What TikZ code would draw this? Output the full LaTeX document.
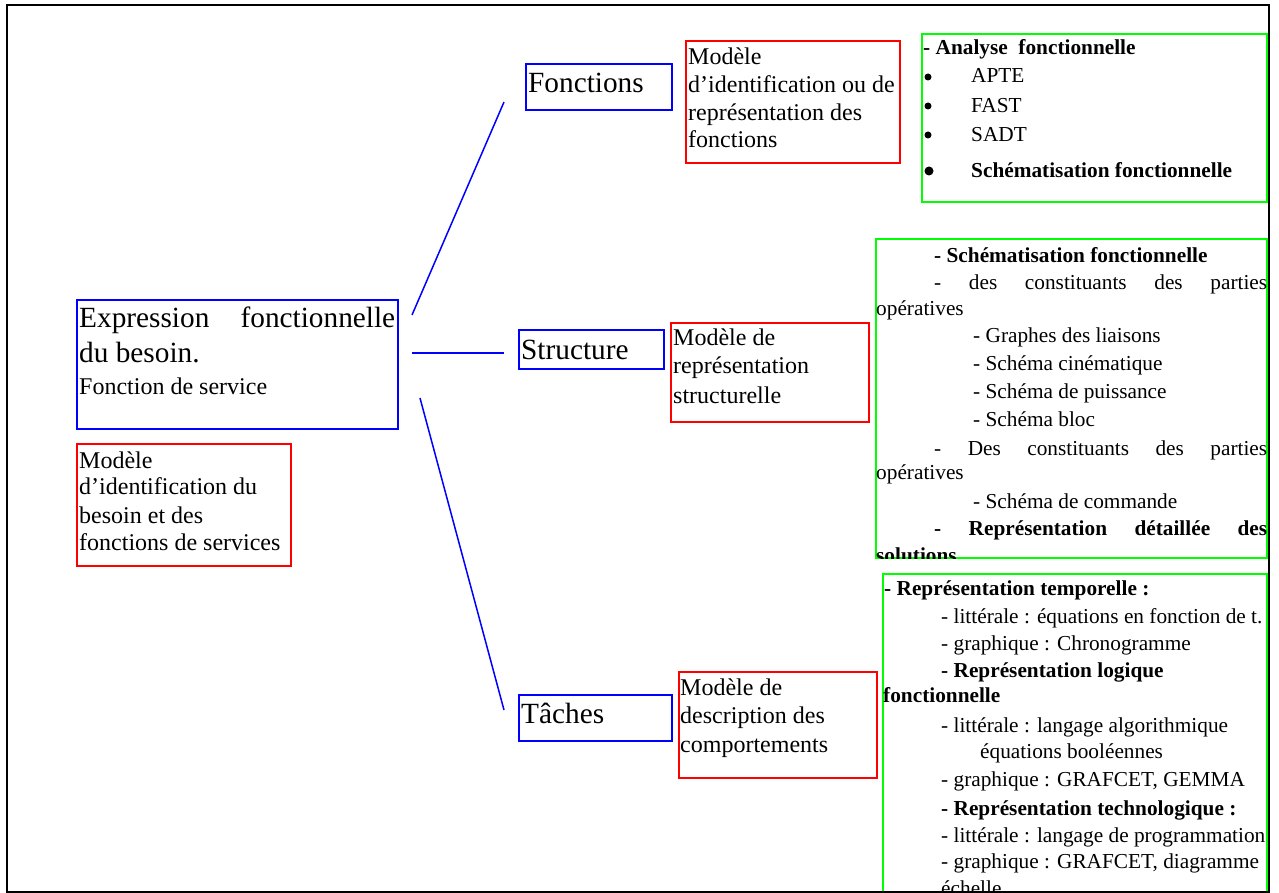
\documentclass[tikz,border=0pt]{standalone}
\usepackage{fontspec}
\setmainfont{Liberation Serif}

\begin{document}
\begin{tikzpicture}[x=1pt, y=-1pt,
    frbox/.style={inner sep=0pt, outer sep=0pt, anchor=north west, line width=1.8pt},
    bluebox/.style={frbox, draw=blue},
    redbox/.style={frbox, draw=red},
    greenbox/.style={frbox, draw=green, line width=1.3pt},
    txt/.style={anchor=base west, inner sep=0pt, font=\fontsize{21.3}{26}\selectfont},
    bld/.style={txt, font=\fontsize{21.3}{26}\selectfont\bfseries},
    mid/.style={txt, font=\fontsize{24}{28}\selectfont},
    big/.style={txt, font=\fontsize{29.3}{34}\selectfont},
    dot/.style={circle, fill=black, inner sep=0pt, minimum size=7pt},
    link/.style={blue, line width=1.5pt}]

   \useasboundingbox (0,0) rectangle (1279,893);

%Boxes
   \node[bluebox, minimum width=321pt, minimum height=129pt] at (77,300) (expr) {};
   \node[redbox, minimum width=214pt, minimum height=122pt] at (77,444) (mexpr) {};

   \node[bluebox, minimum width=146pt, minimum height=46pt] at (526,64) (fonc) {};
   \node[redbox, minimum width=214pt, minimum height=122pt] at (686,41) (mfonc) {};

   \node[bluebox, minimum width=145pt, minimum height=39pt] at (519,330) (struc) {};
   \node[redbox, minimum width=198pt, minimum height=99pt] at (671,323) (mstruc) {};

   \node[bluebox, minimum width=153pt, minimum height=46pt] at (519,695) (tach) {};
   \node[redbox, minimum width=198pt, minimum height=106pt] at (679,672) (mtach) {};

   \node[greenbox, minimum width=345pt, minimum height=168pt] at (922,34) (gfonc) {};
   \node[greenbox, minimum width=391pt, minimum height=319pt] at (876,239) (gstruc) {};
   \node[greenbox, minimum width=384pt, minimum height=317.5pt] at (883,574) (gtach) {};

   \draw[line width=2pt] (7,5) rectangle (1269,891.5);

%Links
   \draw[link] ([shift={(14,15)}]expr.north east) -- ([shift={(-22,-8)}]fonc.south west);
   \draw[link] ([shift={(14,-11.5)}]expr.east) -- ([shift={(-15,3.5)}]struc.west);
   \draw[link] ([shift={(22,-31)}]expr.south east) -- ([shift={(-15,15)}]tach.north west);

%Left
   \node[big] at (79,327) (e1) {\makebox[316pt][s]{Expression fonctionnelle}};
   \node[big] at (79,362) (e2) {du besoin.};
   \node[mid] at (79,394) (e3) {Fonction de service};

   \node[mid] at (79,468) (m1) {Modèle};
   \node[mid] at (79,494) (m2) {d’identification du};
   \node[mid] at (79,523) (m3) {besoin et des};
   \node[mid] at (79,550) (m4) {fonctions de services};

%Middle
   \node[big] at (528,93) (f1) {Fonctions};
   \node[mid] at (688,65) (mf1) {Modèle};
   \node[mid] at (688,93) (mf2) {d’identification ou de};
   \node[mid] at (688,121) (mf3) {représentation des};
   \node[mid] at (688,148) (mf4) {fonctions};

   \node[big] at (521,359) (s1) {Structure};
   \node[mid] at (673,345) (ms1) {Modèle de};
   \node[mid] at (673,373) (ms2) {représentation};
   \node[mid] at (673,403) (ms3) {structurelle};

   \node[big] at (521,723) (t1) {Tâches};
   \node[mid] at (680,695) (mt1) {Modèle de};
   \node[mid] at (680,723) (mt2) {description des};
   \node[mid] at (680,752) (mt3) {comportements};

%Right, fonctions
   \node[bld] at (923,55) (a0) {- Analyse~ fonctionnelle};
   \node[dot] at (928,77) (b1) {};
   \node[dot] at (928,106) (b2) {};
   \node[dot] at (928,135) (b3) {};
   \node[dot, minimum size=9pt] at (929,171) (b4) {};
   \node[txt] at (971,83) (a1) {APTE};
   \node[txt] at (971,113) (a2) {FAST};
   \node[txt] at (971,142) (a3) {SADT};
   \node[bld] at (971,178) (a4) {Schématisation fonctionnelle};

%Right, structure
   \begin{scope}
   \clip (876,239) rectangle (1267,558);
   \node[bld] at (934,262) (r1) {- Schématisation fonctionnelle};
   \node[txt] at (934,290) (r2) {\makebox[333pt][s]{- des constituants des parties}};
   \node[txt] at (876,315) (r3) {opératives};
   \node[txt] at (973,342) (r4) {- Graphes des liaisons};
   \node[txt] at (973,370) (r5) {- Schéma cinématique};
   \node[txt] at (973,398) (r6) {- Schéma de puissance};
   \node[txt] at (973,426) (r7) {- Schéma bloc};
   \node[txt] at (934,455) (r8) {\makebox[333pt][s]{- Des constituants des parties}};
   \node[txt] at (876,479) (r9) {opératives};
   \node[txt] at (973,508) (r10) {- Schéma de commande};
   \node[bld] at (934,535) (r11) {\makebox[333pt][s]{- Représentation détaillée des}};
   \node[bld] at (876,562) (r12) {solutions};
   \end{scope}

%Right, taches
   \begin{scope}
   \clip (883,574) rectangle (1267,891);
   \node[bld] at (884,595) (c1) {- Représentation temporelle :};
   \node[txt] at (941,623) (c2) {- littérale : équations en fonction de t.};
   \node[txt] at (941,650) (c3) {- graphique : Chronogramme};
   \node[bld] at (941,677) (c4) {- Représentation logique};
   \node[bld] at (883,702) (c5) {fonctionnelle};
   \node[txt] at (941,732) (c6) {- littérale : langage algorithmique};
   \node[txt] at (980,758) (c7) {équations booléennes};
   \node[txt] at (941,786) (c8) {- graphique : GRAFCET, GEMMA};
   \node[bld] at (941,815) (c9) {- Représentation technologique :};
   \node[txt] at (941,842) (c10) {- littérale : langage de programmation};
   \node[txt] at (941,868) (c11) {- graphique : GRAFCET, diagramme};
   \node[txt] at (941,895) (c12) {échelle};
   \end{scope}

\end{tikzpicture}
\end{document}
